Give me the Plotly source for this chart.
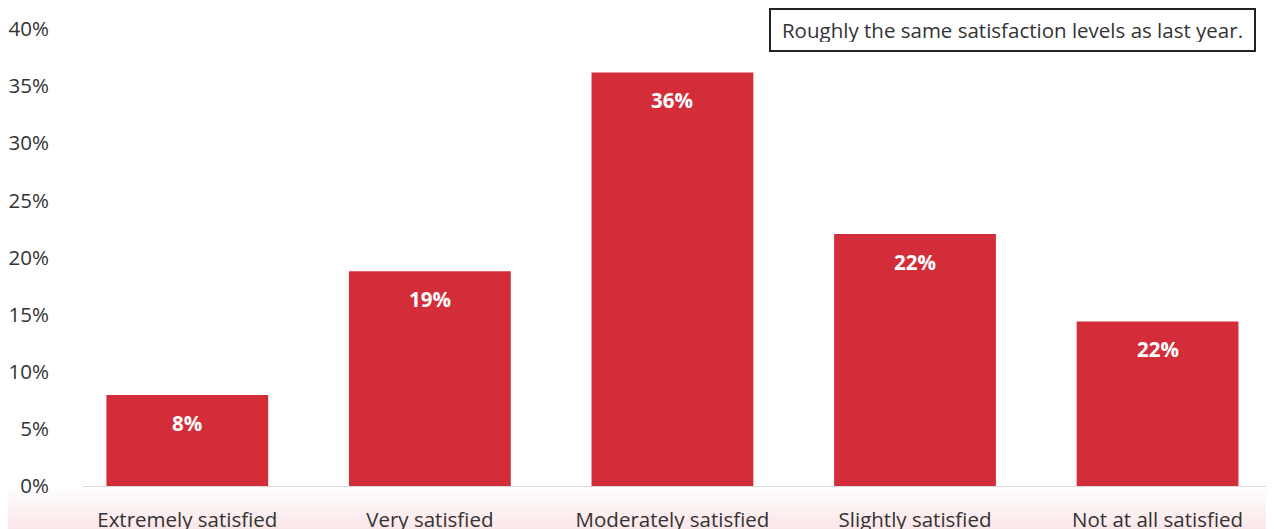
import plotly.graph_objects as go

categories = ["Extremely satisfied", "Very satisfied", "Moderately satisfied",
              "Slightly satisfied", "Not at all satisfied"]
values = [7.96, 18.8, 36.2, 22.05, 14.4]
value_labels = ["8%", "19%", "36%", "22%", "22%"]
y_ticks = [0, 5, 10, 15, 20, 25, 30, 35, 40]
y_tick_labels = ["0%", "5%", "10%", "15%", "20%", "25%", "30%", "35%", "40%"]
note_text = "Roughly the same satisfaction levels as last year."

BAR = "#D32D3A"
TXT = "#333333"
FONT = "Open Sans"
FS = 20.5

fig = go.Figure()
fig.add_trace(go.Bar(x=categories, y=values, marker=dict(color=BAR, line=dict(width=0)),
                     hoverinfo="skip"))

for c, v, t in zip(categories, values, value_labels):
    fig.add_annotation(x=c, y=v, text="<b>" + t + "</b>", showarrow=False,
                       yshift=-28, font=dict(family=FONT, size=FS, color="white"))

fig.add_annotation(xref="paper", yref="paper", x=0.985, y=0.998, xanchor="right", yanchor="middle",
                   text=note_text, showarrow=False, font=dict(family=FONT, size=FS, color=TXT),
                   width=467, height=24, align="center",
                   bordercolor="#222222", borderwidth=2, borderpad=8, bgcolor="white")

# soft pink gradient band under the axis
n = 12
y_top, y_bot = -0.004, -0.1
for i in range(n):
    a = y_top + (y_bot - y_top) * i / n
    b = y_top + (y_bot - y_top) * (i + 1) / n
    fig.add_shape(type="rect", xref="paper", yref="paper", x0=-0.1, x1=1.1, y0=b, y1=a,
                  line=dict(width=0), fillcolor="rgba(220,60,75,%.3f)" % (0.13 * (i + 1) / n),
                  layer="below")

fig.update_layout(
    width=1266, height=521,
    margin=dict(l=75, r=0, t=21, b=43, autoexpand=False),
    paper_bgcolor="white", plot_bgcolor="rgba(0,0,0,0)",
    bargap=0.333, showlegend=False,
    font=dict(family=FONT, size=FS, color=TXT),
    xaxis=dict(range=[-0.43, 4.48], showline=True, linecolor="#d9d9d9", linewidth=1,
               showgrid=False, ticks="outside", ticklen=15, tickcolor="rgba(0,0,0,0)",
               automargin=False,
               tickfont=dict(family=FONT, size=FS, color=TXT)),
    yaxis=dict(range=[0, 40], tickvals=y_ticks, ticktext=y_tick_labels, showgrid=False,
               zeroline=False, showline=False, ticks="", ticklabelstandoff=33,
               automargin=False,
               tickfont=dict(family=FONT, size=FS, color=TXT)),
)

fig.write_html("out.html")
